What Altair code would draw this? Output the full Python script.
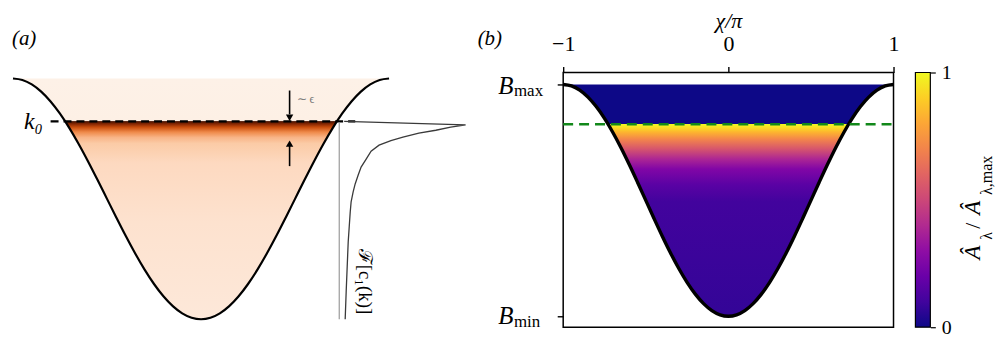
import altair as alt
import pandas as pd

# ---------------- data ----------------
chi = [-1.0, -0.95, -0.9, -0.85, -0.8, -0.75, -0.7, -0.65, -0.6, -0.55, -0.5,
       -0.45, -0.4, -0.35, -0.3, -0.25, -0.2, -0.15, -0.1, -0.05, 0.0,
       0.05, 0.1, 0.15, 0.2, 0.25, 0.3, 0.35, 0.4, 0.45, 0.5,
       0.55, 0.6, 0.65, 0.7, 0.75, 0.8, 0.85, 0.9, 0.95, 1.0]
well = [1.0, 0.9938, 0.9755, 0.9455, 0.9045, 0.8536, 0.7939, 0.7270, 0.6545, 0.5782, 0.5,
        0.4218, 0.3455, 0.2730, 0.2061, 0.1464, 0.0955, 0.0545, 0.0245, 0.0062, 0.0,
        0.0062, 0.0245, 0.0545, 0.0955, 0.1464, 0.2061, 0.2730, 0.3455, 0.4218, 0.5,
        0.5782, 0.6545, 0.7270, 0.7939, 0.8536, 0.9045, 0.9455, 0.9755, 0.9938, 1.0]
well_top = 1.0

k0 = 0.822            # resonance level, panel (a)
k0_b = 0.828          # dashed level, panel (b)

# spectrum F[c1(k)] (amplitude, level)
spec_F = [0.039, 1.000, 0.882, 0.764, 0.630, 0.504, 0.409, 0.315, 0.252, 0.213, 0.173,
          0.150, 0.126, 0.110, 0.094, 0.087, 0.079, 0.071, 0.063, 0.055, 0.047]
spec_k = [0.822, 0.807, 0.798, 0.785, 0.773, 0.756, 0.742, 0.723, 0.698, 0.665, 0.632,
          0.599, 0.562, 0.529, 0.488, 0.446, 0.384, 0.322, 0.219, 0.116, 0.000]
spec_base = 0.735
spec_scale = 0.672

x_ticks = [-1, 0, 1]
cb_ticks = [0, 1]

FONT = "Liberation Serif"

# ---------------- scales ----------------
SXA = alt.Scale(domain=[-1.0106, 1.8095], nice=False, zero=False)
SYA = alt.Scale(domain=[-0.0331, 1.0248], nice=False, zero=False)
SXB = alt.Scale(domain=[-1, 1], nice=False, zero=False)
SYB = alt.Scale(domain=[-0.0472, 1.0515], nice=False, zero=False)
SXC = alt.Scale(domain=[0, 1], nice=False, zero=False)
SYC = alt.Scale(domain=[0, 1], nice=False, zero=False)

def XA(f): return alt.X(f, type="quantitative", scale=SXA, axis=None)
def X2(f): return alt.X2(f)
def YA(f): return alt.Y(f, type="quantitative", scale=SYA, axis=None)
def Y2(f): return alt.Y2(f)

AXB_X = alt.Axis(orient="top", values=x_ticks, labelExpr="datum.value < 0 ? '\u2212' + abs(datum.value) : datum.value",
                 tickSize=6, tickWidth=1.4, tickColor="black", labelFont=FONT, labelFontSize=22,
                 labelColor="black", labelPadding=11, labelFlush=False, domain=False, grid=False,
                 title="\u03c7/\u03c0", titleFont=FONT, titleFontSize=22, titleFontStyle="italic",
                 titleFontWeight="normal", titleColor="black", titlePadding=0)
AXB_Y = alt.Axis(values=cb_ticks, labels=False, tickSize=6, tickWidth=1.4, tickColor="black",
                 domain=False, grid=False, title=None)

def XB(f): return alt.X(f, type="quantitative", scale=SXB, axis=AXB_X)
def YB(f): return alt.Y(f, type="quantitative", scale=SYB, axis=AXB_Y)

AXC_Y = alt.Axis(orient="right", values=cb_ticks, format="d", tickSize=5, tickWidth=1.2, tickColor="black",
                 labelFont=FONT, labelFontSize=20, labelColor="black", labelPadding=6,
                 labelFlush=False, domain=False, grid=False, title=None)
def XC(f): return alt.X(f, type="quantitative", scale=SXC, axis=None)
def YC(f): return alt.Y(f, type="quantitative", scale=SYC, axis=AXC_Y)

def grad(stops, y1=0, y2=1):
    return alt.Gradient(gradient="linear", x1=0, x2=0, y1=y1, y2=y2,
                        stops=[alt.GradientStop(offset=o, color=c) for o, c in stops])

grad_a = grad([(0, "#fdf1e7"), (0.176, "#fdf0e5"), (0.179, "#4a1200"), (0.19, "#8c2a03"),
               (0.203, "#c94e0e"), (0.223, "#ef8a4a"), (0.245, "#f8b487"), (0.27, "#fbcba6"),
               (0.35, "#fdd9c0"), (0.6, "#fde2cf"), (1, "#fde8d9")])
grad_b = grad([(0, "#0d0887"), (0.170, "#0d0887"), (0.1715, "#f0f921"), (0.185, "#f8df25"),
               (0.206, "#fdb42f"), (0.236, "#f3854b"), (0.279, "#d5546e"), (0.322, "#ac2694"),
               (0.365, "#8106a6"), (0.433, "#5a02a4"), (0.506, "#42039d"), (1, "#330597")])
grad_c = grad([(0.0, "#0d0887"), (0.1, "#41049d"), (0.2, "#6a00a8"), (0.3, "#8f0da4"),
               (0.4, "#b12a90"), (0.5, "#cc4778"), (0.6, "#e16462"), (0.7, "#f2844b"),
               (0.8, "#fca636"), (0.9, "#fcce25"), (1.0, "#f0f921")], y1=1, y2=0)

well_df = pd.DataFrame({"chi": chi, "B": well, "top": [well_top] * len(chi)})

# ---------------- panel (a) ----------------
area_a = alt.Chart(well_df).mark_area(color=grad_a, interpolate="monotone").encode(
    x=XA("chi"), y=YA("B"), y2=Y2("top"))
line_a = alt.Chart(well_df).mark_line(color="black", strokeWidth=2.2, interpolate="monotone").encode(
    x=XA("chi"), y=YA("B"))
k0_df = pd.DataFrame({"x0": [-0.80], "x1": [0.82], "y": [k0]})
dash_a = alt.Chart(k0_df).mark_rule(color="black", strokeWidth=2.4, strokeDash=[8, 5]).encode(
    x=XA("x0"), x2=X2("x1"), y=YA("y"))
base_df = pd.DataFrame({"x": [spec_base], "y0": [k0 - 0.004], "y1": [0.0]})
base_a = alt.Chart(base_df).mark_rule(color="#9a9a9a", strokeWidth=1.2).encode(
    x=XA("x"), y=YA("y0"), y2=Y2("y1"))
spec_df = pd.DataFrame({"F": spec_F, "k": spec_k, "i": list(range(len(spec_F)))})
spec_a = alt.Chart(spec_df).transform_calculate(
    xs=f"{spec_base} + {spec_scale} * datum.F").mark_line(color="#3a3a3a", strokeWidth=1.3).encode(
    x=XA("xs"), y=YA("k"), order="i:Q")
arr_df = pd.DataFrame({"x": [0.471, 0.471], "y0": [0.950, 0.636], "y1": [0.851, 0.723]})
arr_a = alt.Chart(arr_df).mark_rule(color="black", strokeWidth=1.6).encode(
    x=XA("x"), y=YA("y0"), y2=Y2("y1"))
head_dn = alt.Chart(pd.DataFrame({"x": [0.471], "y": [0.8368]})).mark_point(
    shape="triangle-down", filled=True, color="black", size=55, opacity=1).encode(x=XA("x"), y=YA("y"))
head_up = alt.Chart(pd.DataFrame({"x": [0.471], "y": [0.7293]})).mark_point(
    shape="triangle-up", filled=True, color="black", size=55, opacity=1).encode(x=XA("x"), y=YA("y"))

def txt(df, enc_x, enc_y, **kw):
    return alt.Chart(df).mark_text(font=FONT, color=kw.pop("color", "black"), **kw).encode(
        x=enc_x("x"), y=enc_y("y"), text="t:N")

lab_a = txt(pd.DataFrame({"x": [-1.0053], "y": [1.162], "t": ["(a)"]}), XA, YA,
            align="left", baseline="middle", fontSize=21, fontStyle="italic")
lab_k0 = txt(pd.DataFrame({"x": [-0.841], "y": [0.818], "t": ["k\u2080"]}), XA, YA,
             align="right", baseline="middle", fontSize=24, fontStyle="italic")
lab_eps = txt(pd.DataFrame({"x": [0.508], "y": [0.913], "t": ["\u223c \u03f5"]}), XA, YA,
              align="left", baseline="middle", fontSize=12, color="#777777")
lab_F = txt(pd.DataFrame({"x": [0.873], "y": [0.157], "t": ["\u2131[c\u2081(k)]"]}), XA, YA,
            align="center", baseline="middle", fontSize=19, angle=90)

panel_a = alt.layer(area_a, line_a, dash_a, base_a, spec_a, arr_a, head_dn, head_up,
                    lab_a, lab_k0, lab_eps, lab_F).properties(width=533, height=256)

# ---------------- panel (b) ----------------
area_b = alt.Chart(well_df).mark_area(color=grad_b, interpolate="monotone").encode(
    x=XB("chi"), y=YB("B"), y2=Y2("top"))
line_b = alt.Chart(well_df).mark_line(color="black", strokeWidth=3.4, interpolate="monotone").encode(
    x=XB("chi"), y=YB("B"))
kb_df = pd.DataFrame({"x0": [-1.0], "x1": [1.0], "y": [k0_b]})
dash_b = alt.Chart(kb_df).mark_rule(color="#12881a", strokeWidth=2.6, strokeDash=[10, 6]).encode(
    x=XB("x0"), x2=X2("x1"), y=YB("y"))
lab_b = txt(pd.DataFrame({"x": [-1.518], "y": [1.197], "t": ["(b)"]}), XB, YB,
            align="left", baseline="middle", fontSize=21, fontStyle="italic")
lab_B = txt(pd.DataFrame({"x": [-1.301, -1.301], "y": [0.958, -0.0343], "t": ["B", "B"]}), XB, YB,
            align="right", baseline="alphabetic", fontSize=25, fontStyle="italic")
lab_sub = txt(pd.DataFrame({"x": [-1.298, -1.298], "y": [0.9506, -0.045], "t": ["max", "min"]}), XB, YB,
              align="left", baseline="alphabetic", fontSize=17)
# colour-bar title, placed in this panel's coordinates (right of the colour bar)
cb_main = txt(pd.DataFrame({"x": [1.524, 1.524], "y": [0.2446, 0.4378], "t": ["\u00c2", "\u00c2"]}), XB, YB,
              align="left", baseline="alphabetic", fontSize=23, fontStyle="italic", angle=270)
cb_slash = txt(pd.DataFrame({"x": [1.524], "y": [0.3777], "t": ["/"]}), XB, YB,
               align="left", baseline="alphabetic", fontSize=22, angle=270)
cb_sub = txt(pd.DataFrame({"x": [1.594, 1.594], "y": [0.3305, 0.5236], "t": ["\u03bb", "\u03bb,max"]}), XB, YB,
             align="left", baseline="alphabetic", fontSize=16, angle=270)

panel_b = alt.layer(area_b, line_b, dash_b, lab_b, lab_B, lab_sub, cb_main, cb_slash, cb_sub).properties(
    width=332, height=256, view=alt.ViewBackground(stroke="black", strokeWidth=1.5))

# ---------------- colour bar ----------------
cb_df = pd.DataFrame({"x0": [0.0], "x1": [1.0], "y0": [0.0], "y1": [1.0]})
cb_rect = alt.Chart(cb_df).mark_rect(color=grad_c, stroke="black", strokeWidth=1.2).encode(
    x=XC("x0"), x2=X2("x1"), y=YC("y0"), y2=Y2("y1"))
panel_c = cb_rect.properties(width=15, height=256)

chart = alt.hconcat(panel_a, panel_b, panel_c, spacing=22, bounds="flush", padding=0,
                    background="white").configure_view(stroke=None)

chart.save("out.html", embed_options={"renderer": "svg", "actions": False})
